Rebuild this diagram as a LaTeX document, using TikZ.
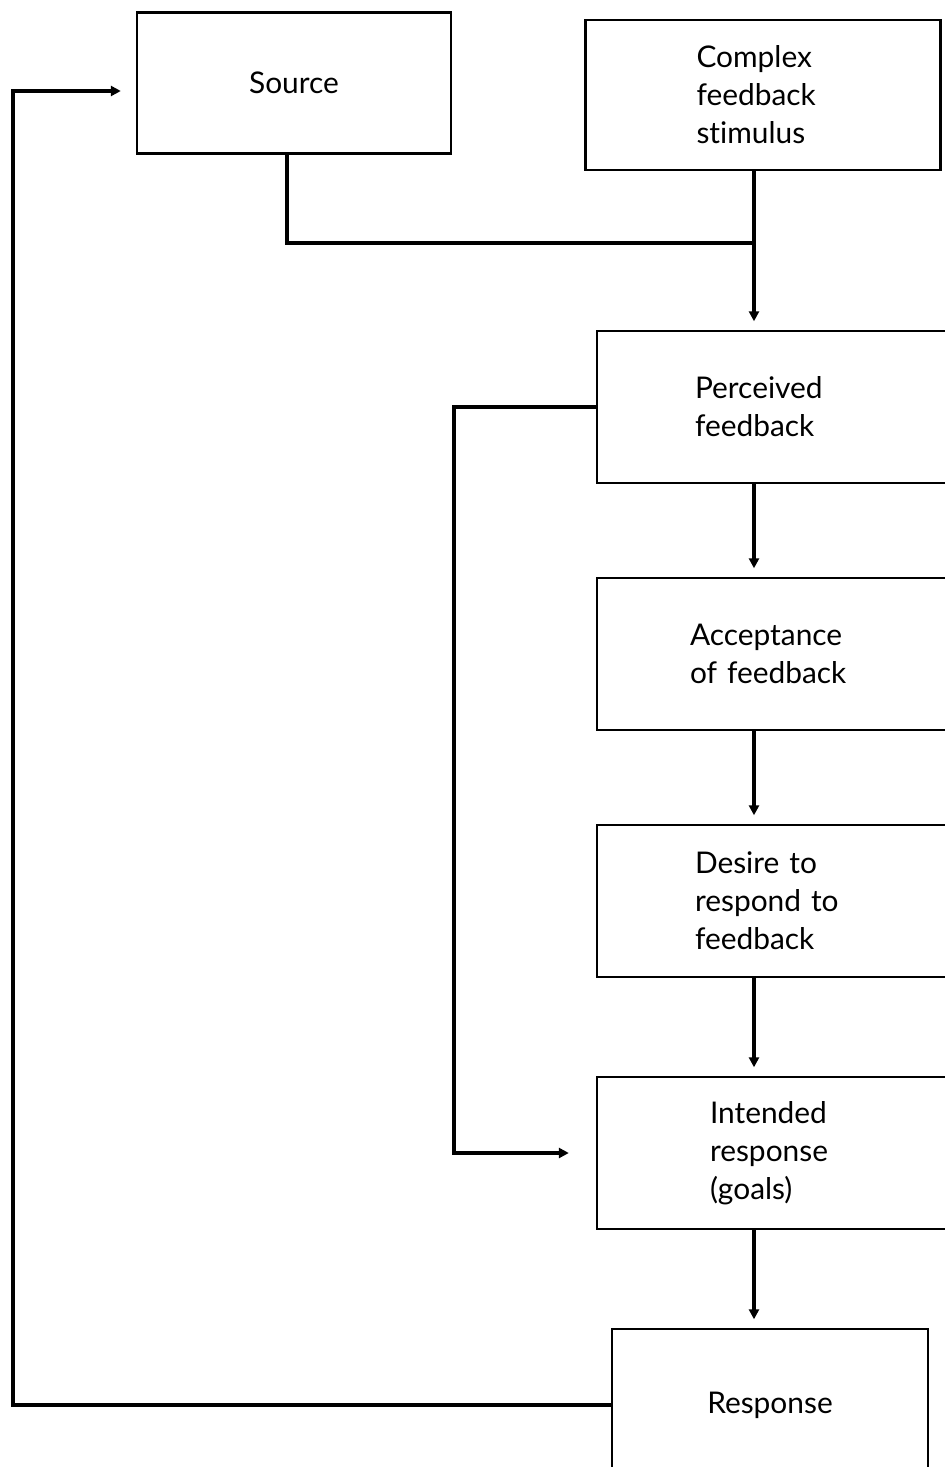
\documentclass[tikz,border=0pt]{standalone}
\usepackage{fontspec}
\setmainfont{Lato}[Ligatures=NoCommon]
\usepackage{tikz}
\usetikzlibrary{arrows.meta,calc}

\begin{document}
\begin{tikzpicture}[x=0.02cm, y=-0.02cm,
  box/.style={draw, line width=1.4pt, minimum height=3.04cm, inner ysep=2pt, align=center, font=\fontsize{17}{21.6}\selectfont},
  stage/.style={box, align=left, text width=3.2cm, inner xsep=1.96cm},
  link/.style={line width=2pt},
  arr/.style={-{Triangle[length=2mm, width=2mm]}, line width=2pt, shorten >=0.17cm},
]
  \useasboundingbox (0,0) rectangle (944,1467);
  % boxes
  \node[box, minimum width=6.28cm, minimum height=2.82cm] (src) at (294,83) {Source};
  \node[stage, text width=2.66cm, inner xsep=2.22cm, minimum height=3.0cm] (cfs) at (763,95) {Complex\\ feedback\\ stimulus};
  \node[stage] (perc) at (775,407) {Perceived\\ feedback};
  \node[stage, text width=3.4cm, inner xsep=1.86cm] (acc) at (775,654) {Acceptance\\ of feedback};
  \node[stage] (des) at (775,901) {Desire to\\ respond to\\ feedback};
  \node[stage, text width=2.6cm, inner xsep=2.26cm] (int) at (775,1153) {Intended\\ response\\ (goals)};
  \node[box, minimum width=6.32cm] (resp) at (770,1405) {Response};
  % connectors
  \coordinate (jn) at (754,243);
  \draw[link] ($(src.south)+(-7,0)$) |- (jn);
  \draw[arr] (jn |- cfs.south) -- (jn |- perc.north);
  \draw[arr] (jn |- perc.south) -- (jn |- acc.north);
  \draw[arr] (jn |- acc.south) -- (jn |- des.north);
  \draw[arr] (jn |- des.south) -- (jn |- int.north);
  \draw[arr] (jn |- int.south) -- (jn |- resp.north);
  \draw[arr, shorten >=0.54cm] (perc.west) -- ++(-142,0) |- (int.west);
  \draw[arr, shorten >=0.3cm] (resp.west) -- ++(-598,0) |- ($(src.west)+(0,8)$);
\end{tikzpicture}
\end{document}
